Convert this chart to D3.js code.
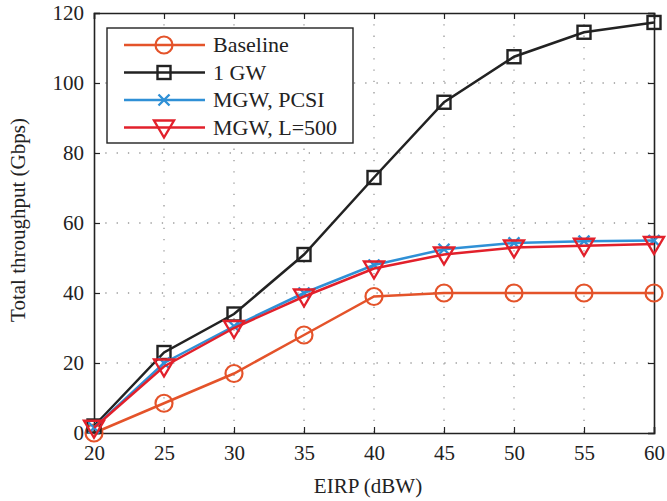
<!DOCTYPE html>
<html lang="en">
<head>
<meta charset="UTF-8">
<title>Total throughput vs EIRP</title>
<script src="https://d3js.org/d3.v7.min.js"></script>
<style>
  body { margin: 0; background: #fff; }
  text { font-family: "Liberation Serif", "Times New Roman", serif; fill: #222; }
</style>
</head>
<body>
<svg id="chart" width="667" height="501"></svg>
<script>
// data
const eirp = [20, 25, 30, 35, 40, 45, 50, 55, 60];
const baseline = [0, 8.5, 17, 28, 39, 40, 40, 40, 40];
const oneGw = [2, 23, 34, 51, 73, 94.5, 107.5, 114.5, 117.3];
const mgwPcsi = [1.5, 20, 30.5, 40, 48, 52.5, 54.3, 54.8, 55];
const mgwL500 = [1.5, 19, 30, 39, 47, 51, 53, 53.5, 54];
const xTicks = [20, 25, 30, 35, 40, 45, 50, 55, 60];
const yTicks = [0, 20, 40, 60, 80, 100, 120];

const series = [
  { name: "Baseline", values: baseline, color: "#e4532a", marker: "circle" },
  { name: "1 GW", values: oneGw, color: "#222222", marker: "square" },
  { name: "MGW, PCSI", values: mgwPcsi, color: "#2f90d6", marker: "cross" },
  { name: "MGW, L=500", values: mgwL500, color: "#e2202b", marker: "triangle" }
];

const svg = d3.select("#chart");
const margin = { top: 13, right: 13, bottom: 68, left: 94 };
const width = 667 - margin.left - margin.right;
const height = 501 - margin.top - margin.bottom;

const x = d3.scaleLinear().domain([20, 60]).range([0, width]);
const y = d3.scaleLinear().domain([0, 120]).range([height, 0]);

const g = svg.append("g").attr("transform", `translate(${margin.left},${margin.top})`);

// dotted grid
g.selectAll("line.gx").data(xTicks.slice(1, -1)).join("line")
  .attr("x1", d => x(d)).attr("x2", d => x(d)).attr("y1", 0).attr("y2", height)
  .attr("stroke", "#999").attr("stroke-width", 1.3).attr("stroke-dasharray", "1.3,10");
g.selectAll("line.gy").data(yTicks.slice(1, -1)).join("line")
  .attr("y1", d => y(d)).attr("y2", d => y(d)).attr("x1", 0).attr("x2", width)
  .attr("stroke", "#999").attr("stroke-width", 1.3).attr("stroke-dasharray", "1.3,10");

// axes, ticks pointing in
const fs = "21px";
const xAxis = g.append("g").attr("transform", `translate(0,${height})`)
  .call(d3.axisBottom(x).tickValues(xTicks).tickSize(-6).tickPadding(12));
const yAxis = g.append("g")
  .call(d3.axisLeft(y).tickValues(yTicks).tickSize(-6).tickPadding(10));
const xTop = g.append("g").call(d3.axisTop(x).tickValues(xTicks).tickSize(-6).tickFormat(""));
const yRight = g.append("g").attr("transform", `translate(${width},0)`)
  .call(d3.axisRight(y).tickValues(yTicks).tickSize(-6).tickFormat(""));
[xAxis, yAxis, xTop, yRight].forEach(a => {
  a.select(".domain").attr("stroke", "#222").attr("stroke-width", 1.6);
  a.selectAll(".tick line").attr("stroke", "#222").attr("stroke-width", 1.2);
  a.selectAll("text").style("font-size", fs).style("font-family", "Liberation Serif").attr("fill", "#222");
});

// marker drawing
function drawMarker(sel, type, color) {
  if (type === "circle") {
    sel.append("circle").attr("r", 8.5).attr("fill", "none").attr("stroke", color).attr("stroke-width", 2.2);
  } else if (type === "square") {
    sel.append("rect").attr("x", -6.5).attr("y", -6.5).attr("width", 13).attr("height", 13)
      .attr("fill", "none").attr("stroke", color).attr("stroke-width", 2.4);
  } else if (type === "cross") {
    sel.append("path").attr("d", "M-5.5,-5.5L5.5,5.5M-5.5,5.5L5.5,-5.5")
      .attr("stroke", color).attr("stroke-width", 2.4).attr("fill", "none");
  } else {
    sel.append("path").attr("d", "M-10,-7L10,-7L0,10Z")
      .attr("fill", "none").attr("stroke", color).attr("stroke-width", 2.4).attr("stroke-linejoin", "miter");
  }
}

const line = d3.line().x((d, i) => x(eirp[i])).y(d => y(d));
series.forEach(s => {
  g.append("path").datum(s.values).attr("d", line)
    .attr("fill", "none").attr("stroke", s.color).attr("stroke-width", 2.5);
  s.values.forEach((v, i) => {
    const m = g.append("g").attr("transform", `translate(${x(eirp[i])},${y(v)})`);
    drawMarker(m, s.marker, s.color);
  });
});

// legend
const legend = svg.append("g").attr("transform", "translate(107,28)");
legend.append("rect").attr("width", 246).attr("height", 115)
  .attr("fill", "#fff").attr("stroke", "#222").attr("stroke-width", 1.4);
series.forEach((s, i) => {
  const row = legend.append("g").attr("transform", `translate(0,${17 + i * 27.5})`);
  row.append("line").attr("x1", 17).attr("x2", 98).attr("stroke", s.color).attr("stroke-width", 2.5);
  drawMarker(row.append("g").attr("transform", "translate(57,0)"), s.marker, s.color);
  row.append("text").attr("x", 106).attr("y", 7).style("font-size", "22px").text(s.name);
});

// axis titles
svg.append("text").attr("x", 368).attr("y", 493)
  .attr("text-anchor", "middle").style("font-size", fs).text("EIRP (dBW)");
svg.append("text").attr("transform", `translate(25,220) rotate(-90)`)
  .attr("text-anchor", "middle").style("font-size", fs).text("Total throughput (Gbps)");
</script>
</body>
</html>
